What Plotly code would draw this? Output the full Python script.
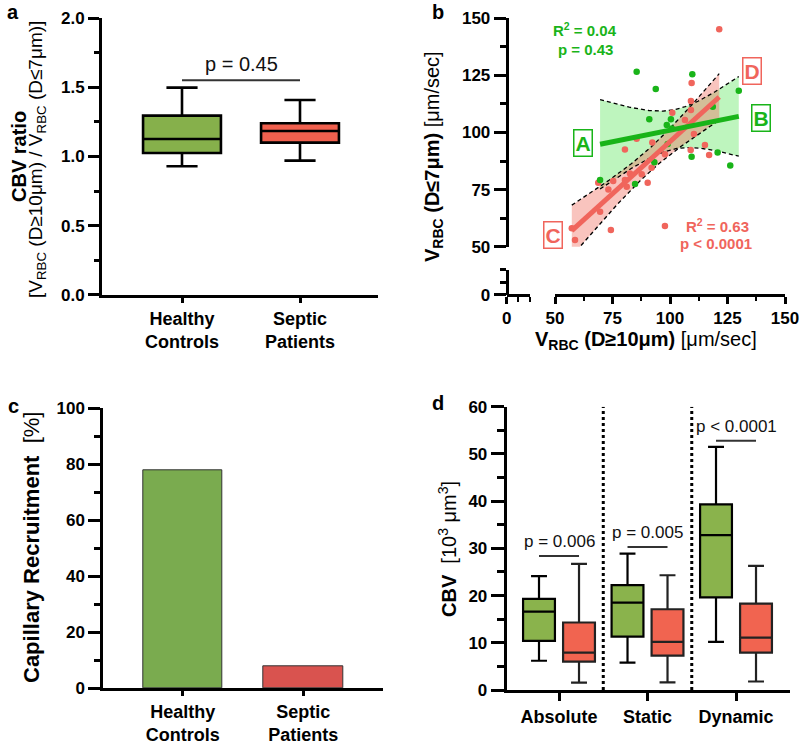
import numpy as np
import plotly.graph_objects as go

FONT = "Liberation Sans, Arial, Helvetica, sans-serif"

# ---------------- data ----------------
# Panel a : CBV ratio box plot
ratio_groups = ["Healthy<br>Controls", "Septic<br>Patients"]
ratio_q1 = [1.025, 1.10]
ratio_median = [1.126, 1.184]
ratio_q3 = [1.295, 1.24]
ratio_lower = [0.93, 0.97]
ratio_upper = [1.497, 1.408]
ratio_p_label = "p = 0.45"
ratio_p_y = 1.55

# Panel b : scatter V_RBC large vs small vessels
healthy_v_large = [85.5, 109.7, 93.8, 129.9, 118.6, 91.0, 100.4, 98.6, 100.8, 99.0,
                   93.2, 109.4, 120.7, 126.2, 69.6, 84.8]
healthy_v_small = [126.6, 125.5, 119.0, 118.3, 111.3, 105.8, 105.8, 103.3, 101.8, 95.0,
                   87.0, 89.4, 91.3, 85.5, 79.2, 77.5]
septic_v_large = [121.4, 109.4, 109.1, 109.1, 101.0, 106.5, 110.4, 85.5, 92.3, 115.2,
                  80.4, 109.0, 117.0, 97.8, 92.0, 82.6, 87.7, 75.3, 80.4, 68.8,
                  90.3, 81.2, 73.2, 69.6, 74.3, 57.3, 58.7, 97.8]
septic_v_small = [145.2, 121.7, 113.8, 109.9, 108.7, 105.5, 99.3, 97.3, 95.6, 94.5,
                  92.6, 92.3, 90.1, 90.5, 84.6, 82.1, 81.7, 78.8, 79.2, 78.0,
                  78.0, 76.3, 75.1, 65.3, 57.3, 58.1, 52.9, 59.1]
healthy_stats = ["R<sup>2</sup> = 0.04", "p = 0.43"]
septic_stats = ["R<sup>2</sup> = 0.63", "p < 0.0001"]

# Panel c : capillary recruitment
recruit_groups = ["Healthy<br>Controls", "Septic<br>Patients"]
recruitment = [77.7, 7.7]

# Panel d : CBV box plots
cbv_categories = ["Absolute", "Static", "Dynamic"]
cbv_h_q1 = [10.4, 11.3, 19.6]
cbv_h_median = [16.6, 18.5, 32.8]
cbv_h_q3 = [19.3, 22.2, 39.3]
cbv_h_lower = [6.2, 5.8, 10.2]
cbv_h_upper = [24.1, 28.9, 51.5]
cbv_s_q1 = [6.0, 7.3, 7.9]
cbv_s_median = [7.9, 10.2, 11.1]
cbv_s_q3 = [14.3, 17.1, 18.3]
cbv_s_lower = [1.55, 1.6, 1.8]
cbv_s_upper = [26.7, 24.3, 26.3]
cbv_p_labels = ["p = 0.006", "p = 0.005", "p < 0.0001"]
cbv_p_y = [28.4, 30.3, 52.8]

# ---------------- colours ----------------
GREEN_BOX = "#86b04b"
RED_BOX = "#f0604e"
GREEN_BAR = "#7aab4f"
RED_BAR = "#d9534f"
GREEN_PT = "#19b419"
RED_PT = "#f0655c"
GREEN_FILL = "rgba(125,235,125,0.5)"
RED_FILL = "rgba(240,115,100,0.42)"


def t975(df):
    z = 1.959964
    return (z + (z**3 + z) / (4 * df) + (5 * z**5 + 16 * z**3 + 3 * z) / (96 * df**2)
            + (3 * z**7 + 19 * z**5 + 17 * z**3 - 15 * z) / (384 * df**3))


def fit_ci(x, y, npts=120):
    x = np.asarray(x, float)
    y = np.asarray(y, float)
    n = len(x)
    slope, intercept = np.polyfit(x, y, 1)
    xs = np.linspace(x.min(), x.max(), npts)
    yh = intercept + slope * xs
    resid = y - (intercept + slope * x)
    s = np.sqrt(np.sum(resid**2) / (n - 2))
    sxx = np.sum((x - x.mean())**2)
    half = t975(n - 2) * s * np.sqrt(1.0 / n + (xs - x.mean())**2 / sxx)
    return xs, yh, yh - half, yh + half


fig = go.Figure()

# ---------- panel a ----------
ax_pos = list(range(len(ratio_groups)))
for i, col in enumerate([GREEN_BOX, RED_BOX]):
    fig.add_trace(go.Box(
        x=[ax_pos[i]], q1=[ratio_q1[i]], median=[ratio_median[i]], q3=[ratio_q3[i]],
        lowerfence=[ratio_lower[i]], upperfence=[ratio_upper[i]],
        fillcolor=col, line=dict(color="black", width=2.6), width=0.66,
        whiskerwidth=0.4, boxpoints=False, showlegend=False,
        xaxis="x", yaxis="y"))

# ---------- panel b ----------
gx, gy, glo, ghi = fit_ci(healthy_v_large, healthy_v_small)
rx, ry, rlo, rhi = fit_ci(septic_v_large, septic_v_small)

def band(xs, lo, hi, color):
    fig.add_trace(go.Scatter(x=xs, y=hi, mode="lines", line=dict(width=0, color=color),
                             showlegend=False, hoverinfo="skip", xaxis="x2", yaxis="y2"))
    fig.add_trace(go.Scatter(x=xs, y=lo, mode="lines", line=dict(width=0, color=color),
                             fill="tonexty", fillcolor=color, showlegend=False,
                             hoverinfo="skip", xaxis="x2", yaxis="y2"))

band(gx, glo, ghi, GREEN_FILL)
band(rx, rlo, rhi, RED_FILL)
for xs, yy in [(gx, glo), (gx, ghi), (rx, rlo), (rx, rhi)]:
    fig.add_trace(go.Scatter(x=xs, y=yy, mode="lines",
                             line=dict(color="black", width=1.3, dash="4px,3px"),
                             showlegend=False, hoverinfo="skip", xaxis="x2", yaxis="y2"))
fig.add_trace(go.Scatter(x=septic_v_large, y=septic_v_small, mode="markers",
                         marker=dict(color=RED_PT, size=6.5), showlegend=False,
                         xaxis="x2", yaxis="y2"))
fig.add_trace(go.Scatter(x=healthy_v_large, y=healthy_v_small, mode="markers",
                         marker=dict(color=GREEN_PT, size=6.5), showlegend=False,
                         xaxis="x2", yaxis="y2"))
fig.add_trace(go.Scatter(x=rx, y=ry, mode="lines", line=dict(color=RED_PT, width=5),
                         showlegend=False, xaxis="x2", yaxis="y2"))
fig.add_trace(go.Scatter(x=gx, y=gy, mode="lines", line=dict(color=GREEN_PT, width=5),
                         showlegend=False, xaxis="x2", yaxis="y2"))
# broken-axis stubs
fig.add_trace(go.Scatter(x=[None], y=[None], mode="markers", showlegend=False,
                         hoverinfo="skip", xaxis="x3", yaxis="y3"))

# ---------- panel c ----------
fig.add_trace(go.Bar(x=list(range(len(recruit_groups))), y=recruitment, width=0.66,
                     marker=dict(color=[GREEN_BAR, RED_BAR], line=dict(color="#333", width=1)),
                     showlegend=False, xaxis="x4", yaxis="y4"))

# ---------- panel d ----------
d_pos = np.arange(len(cbv_categories))
OFF = 0.226
fig.add_trace(go.Box(
    x=list(d_pos - OFF), q1=cbv_h_q1, median=cbv_h_median, q3=cbv_h_q3,
    lowerfence=cbv_h_lower, upperfence=cbv_h_upper, fillcolor="#8ab34c",
    line=dict(color="black", width=2.2), width=0.36, whiskerwidth=0.5,
    boxpoints=False, showlegend=False, xaxis="x5", yaxis="y5"))
fig.add_trace(go.Box(
    x=list(d_pos + OFF), q1=cbv_s_q1, median=cbv_s_median, q3=cbv_s_q3,
    lowerfence=cbv_s_lower, upperfence=cbv_s_upper, fillcolor="#f16450",
    line=dict(color="#222", width=2.2), width=0.36, whiskerwidth=0.5,
    boxpoints=False, showlegend=False, xaxis="x5", yaxis="y5"))

# ---------------- layout ----------------
def axis_common(size=17):
    return dict(showline=True, linecolor="black", linewidth=3, ticks="outside",
                tickwidth=3, tickcolor="black", showgrid=False, zeroline=False,
                automargin=False,
                tickfont=dict(family=FONT, size=size, color="black", weight="bold"))

shapes = []
annotations = []

# panel a significance bar
shapes.append(dict(type="line", xref="x", yref="y", x0=ax_pos[0], x1=ax_pos[1],
                   y0=ratio_p_y, y1=ratio_p_y, line=dict(color="#333", width=2)))
annotations.append(dict(xref="x", yref="y", x=(ax_pos[0] + ax_pos[1]) / 2, y=ratio_p_y,
                        text=ratio_p_label, showarrow=False, yanchor="bottom", yshift=3,
                        font=dict(family=FONT, size=20, color="#111")))

# panel d separators and significance bars
for k in range(len(cbv_categories) - 1):
    shapes.append(dict(type="line", xref="x5", yref="y5", x0=k + 0.5, x1=k + 0.5,
                       y0=0, y1=60, line=dict(color="black", width=3, dash="dot")))
for k, (lab, yv) in enumerate(zip(cbv_p_labels, cbv_p_y)):
    shapes.append(dict(type="line", xref="x5", yref="y5", x0=k - OFF, x1=k + OFF,
                       y0=yv, y1=yv, line=dict(color="#333", width=2)))
    annotations.append(dict(xref="x5", yref="y5", x=k, y=yv, text=lab, showarrow=False,
                            yanchor="bottom", yshift=3,
                            font=dict(family=FONT, size=17, color="#111")))

W, H = 800, 744

def px(x):
    return x / W

def py(y):
    return 1 - y / H

def ann(text, x, y, size, angle=0, color="black", **kw):
    d = dict(xref="paper", yref="paper", x=px(x), y=py(y), text=text, showarrow=False,
             textangle=angle, xanchor="center", yanchor="middle",
             font=dict(family=FONT, size=size, color=color))
    d.update(kw)
    annotations.append(d)

# panel letters
ann("<b>a</b>", 13, 12, 20)
ann("<b>b</b>", 438, 12, 20)
ann("<b>c</b>", 13, 406, 20)
ann("<b>d</b>", 438, 403, 20)

# axis titles
ann("<b>CBV ratio</b>", 19, 157, 20, -90)
ann("[V<sub>RBC</sub> (D≥10μm) / V<sub>RBC</sub> (D≤7μm)]", 37, 160, 19, -90)
ann("<b>V<sub>RBC</sub> (D≤7μm)</b> [μm/sec]", 433, 157, 20, -90)
ann("<b>V<sub>RBC</sub> (D≥10μm)</b> [μm/sec]", 646, 341, 20)
ann("<b>Capillary Recruitment</b>  [%]", 31, 548, 22, -90)
ann("<b>CBV</b>  [10<sup>3</sup> μm<sup>3</sup>]", 447, 549, 20, -90)

# panel b statistics
ann("<b>" + healthy_stats[0] + "</b>", 585, 30, 15, color=GREEN_PT)
ann("<b>" + healthy_stats[1] + "</b>", 585, 49, 15, color=GREEN_PT)
ann("<b>" + septic_stats[0] + "</b>", 717, 225, 15, color=RED_PT)
ann("<b>" + septic_stats[1] + "</b>", 716, 244, 15, color=RED_PT)

# region labels A-D
for lab, x, y, col in [("A", 583, 143, GREEN_PT), ("B", 761, 118, GREEN_PT),
                       ("C", 553, 235, RED_PT), ("D", 752, 71, RED_PT)]:
    ann("<b>" + lab + "</b>", x, y, 21, color=col, bordercolor=col, borderwidth=1.5,
        borderpad=1, bgcolor="white")

layout = dict(
    width=W, height=H, autosize=False,
    margin=dict(l=0, r=0, t=0, b=0, pad=0, autoexpand=False),
    paper_bgcolor="white", plot_bgcolor="white",
    boxmode="overlay", bargap=0,
    shapes=shapes, annotations=annotations,
    # panel a
    xaxis=dict(axis_common(18), domain=[0.1275, 0.4725], range=[-0.678, 1.661],
               tickvals=ax_pos, ticktext=ratio_groups, ticklen=5, anchor="y"),
    yaxis=dict(axis_common(17), domain=[0.6035, 0.9758], range=[0, 2], tick0=0, dtick=0.5,
               tickformat=".1f", ticklen=11, anchor="x",
               minor=dict(dtick=0.25, ticklen=5, tickwidth=3, tickcolor="black", ticks="outside")),
    # panel b main
    xaxis2=dict(axis_common(17), domain=[0.69375, 0.98125], range=[50, 150], tick0=50,
                dtick=25, ticklen=7, anchor="free", position=0.6035, linewidth=2.5,
                minor=dict(dtick=12.5, ticklen=4, tickwidth=2, tickcolor="black", ticks="outside")),
    yaxis2=dict(axis_common(17), domain=[0.6684, 0.9754], range=[50, 150], tick0=50,
                dtick=25, ticklen=12, anchor="free", position=0.63338,
                minor=dict(dtick=12.5, ticklen=6, tickwidth=3, tickcolor="black", ticks="outside")),
    # panel b break stubs
    xaxis3=dict(axis_common(17), domain=[0.63338, 0.6625], range=[0, 10.1], tickvals=[0],
                ticktext=["0"], ticklen=7, anchor="free", position=0.6035, linewidth=2.5,
                minor=dict(tickvals=[5, 10], ticklen=5, tickwidth=2, tickcolor="black", ticks="outside")),
    yaxis3=dict(axis_common(17), domain=[0.6035, 0.6371], range=[0, 11], tickvals=[0],
                ticktext=["0"], ticklen=12, anchor="free", position=0.63338,
                minor=dict(tickvals=[5.5, 11], ticklen=6, tickwidth=3, tickcolor="black", ticks="outside")),
    # panel c
    xaxis4=dict(axis_common(18), domain=[0.12913, 0.47875], range=[-0.658, 1.661],
                tickvals=list(range(len(recruit_groups))), ticktext=recruit_groups,
                ticklen=5, anchor="y4"),
    yaxis4=dict(axis_common(17), domain=[0.07487, 0.45121], range=[0, 100], tick0=0,
                dtick=20, ticklen=12, anchor="x4",
                minor=dict(dtick=10, ticklen=6, tickwidth=3, tickcolor="black", ticks="outside")),
    # panel d
    xaxis5=dict(axis_common(18), domain=[0.63338, 0.9875], range=[-0.591, 2.61],
                tickvals=list(d_pos), ticktext=cbv_categories, ticklen=8, anchor="y5"),
    yaxis5=dict(axis_common(17), domain=[0.07258, 0.45336], range=[0, 60], tick0=0,
                dtick=10, ticklen=13, anchor="x5",
                minor=dict(dtick=5, ticklen=7, tickwidth=3, tickcolor="black", ticks="outside")),
)
fig.update_layout(layout)
fig.write_html(
    "out.html",
    config={"displayModeBar": False},
    post_script="document.body.style.margin='0';document.body.style.overflow='hidden';",
)
